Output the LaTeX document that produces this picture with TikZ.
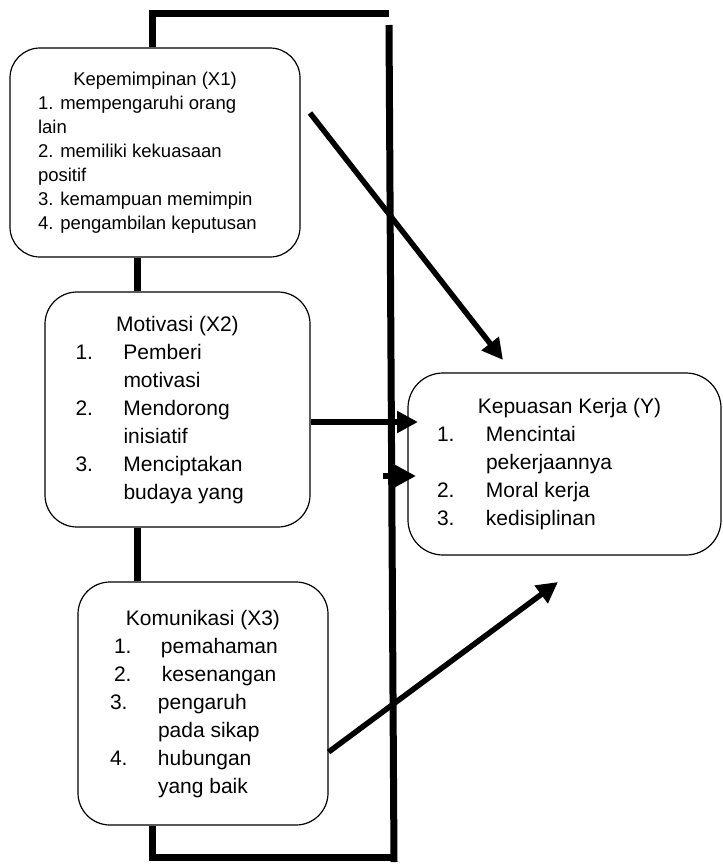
\documentclass[tikz,border=0pt]{standalone}
\usepackage{fontspec}
\setmainfont{Liberation Sans}
\usetikzlibrary{arrows.meta}

\begin{document}
\begin{tikzpicture}[x=1pt,y=-1pt,->,>={Triangle[length=21pt,width=21pt]},
    box/.style={draw,line width=1.2pt,rounded corners=32pt,inner sep=0pt,
      font=\fontsize{21}{28}\selectfont},
    frame/.style={-,line width=7pt},
    link/.style={line width=5.5pt}]
  \useasboundingbox (0,0) rectangle (723,865);

  \node[box,minimum width=290pt,minimum height=209pt,rounded corners=30pt,
        font=\fontsize{18.5}{24}\selectfont] (x1) at (155,152.5)
    {\begin{tabular}[t]{@{}p{234pt}@{}}
       \multicolumn{1}{@{}c@{}}{Kepemimpinan (X1)}\\
       1. mempengaruhi orang\\ lain\\ 2. memiliki kekuasaan\\ positif\\
       3. kemampuan memimpin\\ 4. pengambilan keputusan
     \end{tabular}};
  \node[box,minimum width=265pt,minimum height=235pt] (x2) at (177.5,409.5)
    {\begin{tabular}[t]{@{}p{48pt}@{}p{156pt}@{}}
       \multicolumn{2}{@{}c@{}}{Motivasi (X2)}\\
       1. & Pemberi\\ & motivasi\\ 2. & Mendorong\\ & inisiatif\\
       3. & Menciptakan\\ & budaya yang
     \end{tabular}};
  \node[box,minimum width=250pt,minimum height=243pt] (x3) at (203,703.5)
    {\begin{tabular}[t]{@{}p{48pt}@{}p{138pt}@{}}
       \multicolumn{2}{@{}c@{}}{Komunikasi (X3)}\\
       \hspace*{4pt}1. & \hspace*{3pt}pemahaman\\
       \hspace*{4pt}2. & \hspace*{4pt}kesenangan\\
       3. & pengaruh\\ & pada sikap\\ 4. & hubungan\\ & yang baik
     \end{tabular}};
  \node[box,minimum width=313pt,minimum height=182pt,rounded corners=35pt] (y) at (564.5,464)
    {\begin{tabular}[t]{@{}p{49pt}@{}p{206pt}@{}}
       \multicolumn{2}{@{}c@{}}{\hspace*{10pt}Kepuasan Kerja (Y)}\\
       1. & Mencintai\\ & pekerjaannya\\ 2. & Moral kerja\\ 3. & kedisiplinan
     \end{tabular}};

  % the frame round the three variables
  \coordinate (spine) at (137,0);
  \coordinate (tl) at (152,13);
  \coordinate (tr) at (389,13);
  \coordinate (rt) at (389,25);
  \coordinate (rb) at (394,862);
  \coordinate (bl) at (152,857);
  \coordinate (br) at (394,857);
  \draw[frame] (x1.north -| tl) -- (tl) -- (tr);
  \draw[frame] (rt) -- (rb);
  \draw[frame] (x1.south -| spine) -- (x2.north -| spine);
  \draw[frame] (x2.south -| spine) -- (x3.north -| spine);
  \draw[frame] (x3.south -| bl) -- (bl) -- (br);

  % arrows to Y
  \coordinate (a1) at (310,113);
  \coordinate (a1e) at (503,360);
  \coordinate (a2e) at (418,422);
  \coordinate (a3) at (383,476);
  \coordinate (a3e) at (416,476);
  \coordinate (a4) at (328,752);
  \coordinate (a4e) at (558,582);
  \draw[link] (a1) -- (a1e);
  \draw[link] (x2.east |- a2e) -- (a2e);
  \draw[link] (a3) -- (a3e);
  \draw[link] (x3.east |- a4) -- (a4e);
\end{tikzpicture}
\end{document}
